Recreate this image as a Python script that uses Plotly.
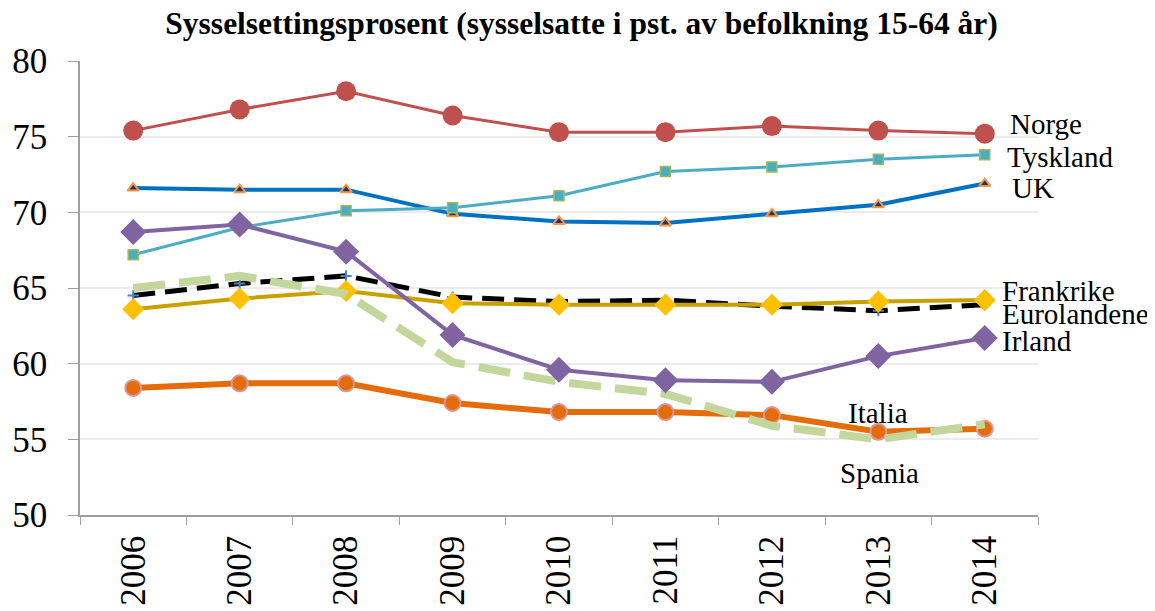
import plotly.graph_objects as go

years = ["2006", "2007", "2008", "2009", "2010", "2011", "2012", "2013", "2014"]
norge = [75.4, 76.8, 78.0, 76.4, 75.3, 75.3, 75.7, 75.4, 75.2]
tyskland = [67.2, 69.0, 70.1, 70.3, 71.1, 72.7, 73.0, 73.5, 73.8]
uk = [71.6, 71.5, 71.5, 69.9, 69.4, 69.3, 69.9, 70.5, 71.9]
irland = [68.7, 69.2, 67.4, 61.9, 59.6, 58.9, 58.8, 60.5, 61.7]
frankrike = [63.6, 64.3, 64.8, 64.0, 63.9, 63.9, 63.9, 64.1, 64.2]
eurolandene = [64.5, 65.3, 65.8, 64.4, 64.1, 64.2, 63.8, 63.5, 63.9]
spania = [65.0, 65.8, 64.6, 60.1, 58.8, 58.0, 55.9, 55.0, 56.0]
italia = [58.4, 58.7, 58.7, 57.4, 56.8, 56.8, 56.6, 55.5, 55.7]

labels = ["Norge", "Tyskland", "UK", "Frankrike", "Eurolandene", "Irland", "Italia", "Spania"]
label_x = [0.9687, 0.9656, 0.9708, 0.9603, 0.9603, 0.9603, 0.833, 0.835]
label_y = [75.84, 73.66, 71.6, 64.8, 63.28, 61.5, 56.74, 52.77]
label_anchor = ["left", "left", "left", "left", "left", "left", "center", "center"]

FONT = "Liberation Serif"

fig = go.Figure()

fig.add_trace(go.Scatter(x=years, y=norge, mode="lines+markers", name="Norge",
                         line=dict(color="#C0504D", width=3),
                         marker=dict(symbol="circle", size=20, color="#C0504D")))
fig.add_trace(go.Scatter(x=years, y=uk, mode="lines+markers", name="UK",
                         line=dict(color="#0070C0", width=4),
                         marker=dict(symbol="triangle-up", size=10, color="#1F3864",
                                     line=dict(color="#F79646", width=2))))
fig.add_trace(go.Scatter(x=years, y=tyskland, mode="lines+markers", name="Tyskland",
                         line=dict(color="#4BACC6", width=3),
                         marker=dict(symbol="square", size=10, color="#4BACC6",
                                     line=dict(color="#9BBB59", width=1.5))))
fig.add_trace(go.Scatter(x=years, y=eurolandene, mode="lines+markers", name="Eurolandene",
                         line=dict(color="#000000", width=5, dash="22px,10px"),
                         marker=dict(symbol="cross-thin", size=8,
                                     line=dict(color="#4F81BD", width=2))))
fig.add_trace(go.Scatter(x=years, y=frankrike, mode="lines+markers", name="Frankrike",
                         line=dict(color="#C9A000", width=4),
                         marker=dict(symbol="diamond", size=17, color="#FFC000")))
fig.add_trace(go.Scatter(x=years, y=italia, mode="lines+markers", name="Italia",
                         line=dict(color="#E46C0A", width=6),
                         marker=dict(symbol="circle", size=16, color="#E46C0A",
                                     line=dict(color="#D99694", width=2))))
fig.add_trace(go.Scatter(x=years, y=spania, mode="lines", name="Spania",
                         line=dict(color="#C3D69B", width=8, dash="32px,14px")))
fig.add_trace(go.Scatter(x=years, y=irland, mode="lines+markers", name="Irland",
                         line=dict(color="#8064A2", width=4),
                         marker=dict(symbol="diamond", size=20, color="#8064A2")))

for t, xv, yv, an in zip(labels, label_x, label_y, label_anchor):
    fig.add_annotation(x=xv, y=yv, xref="paper", yref="y", text=t, showarrow=False,
                       xanchor=an, yanchor="middle",
                       font=dict(family=FONT, size=29, color="#000000"))

fig.update_layout(
    width=1155, height=611,
    paper_bgcolor="white", plot_bgcolor="white",
    margin=dict(l=72, r=125, t=53, b=104, autoexpand=False),
    showlegend=False,
    title=dict(text="<b>Sysselsettingsprosent (sysselsatte i pst. av befolkning 15-64 år)</b>",
               x=0.4966, xanchor="center", y=0.975, yanchor="middle",
               font=dict(family=FONT, size=31.5, color="#000000")),
    font=dict(family=FONT, color="#000000"),
)

fig.update_xaxes(type="category", range=[-0.5, 8.5], tickangle=-90, automargin=False,
                 showline=True, linecolor="#A0A0A0", linewidth=1.5,
                 ticks="outside", ticklen=8, tickcolor="#A0A0A0", tickson="boundaries",
                 ticklabelstandoff=5,
                 showgrid=False, tickfont=dict(family=FONT, size=35, color="#000000"))
fig.update_yaxes(range=[50, 80], dtick=5, automargin=False,
                 showline=True, linecolor="#A0A0A0", linewidth=1.5,
                 ticks="outside", ticklen=10, tickcolor="#A0A0A0",
                 ticklabelstandoff=14,
                 showgrid=True, gridcolor="#EBEBEB", gridwidth=1.5, zeroline=False,
                 tickfont=dict(family=FONT, size=35, color="#000000"))

fig.write_html("out.html")
